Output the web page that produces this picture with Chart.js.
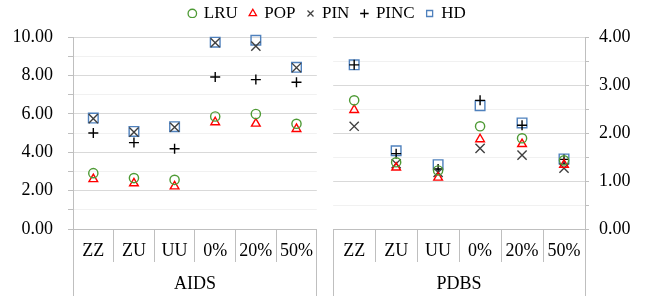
<!DOCTYPE html>
<html>
<head>
<meta charset="utf-8">
<script src="https://cdn.jsdelivr.net/npm/chart.js@4/dist/chart.umd.min.js"></script>
<style>
html,body{margin:0;padding:0;background:#fff;}
#wrap{position:relative;width:655px;height:296px;overflow:hidden;background:#fff;}
#wrap .box{position:absolute;}
canvas{display:block;}
</style>
</head>
<body>
<div id="wrap">
  <div class="box" style="left:0;top:0;"><canvas id="cL" width="325" height="296"></canvas></div>
  <div class="box" style="left:325px;top:0;"><canvas id="cR" width="330" height="296"></canvas></div>
  <div class="box" style="left:0;top:-7px;"><canvas id="cLeg" width="655" height="50"></canvas></div>
</div>
<script>
// ---- data ----
const categories = ['ZZ', 'ZU', 'UU', '0%', '20%', '50%'];
const groupLeft = ['AIDS'];
const groupRight = ['PDBS'];
const seriesNames = ['LRU', 'POP', 'PIN', 'PINC', 'HD'];

const aidsLRU  = [2.91, 2.65, 2.56, 5.86, 5.99, 5.48];
const aidsPOP  = [2.60, 2.38, 2.22, 5.56, 5.49, 5.21];
const aidsPIN  = [5.75, 5.05, 5.30, 9.70, 9.52, 8.40];
const aidsPINC = [5.00, 4.50, 4.18, 7.92, 7.78, 7.64];
const aidsHD   = [5.78, 5.08, 5.33, 9.73, 9.83, 8.42];

const pdbsLRU  = [2.68, 1.39, 1.22, 2.14, 1.89, 1.43];
const pdbsPOP  = [2.48, 1.28, 1.07, 1.87, 1.77, 1.34];
const pdbsPIN  = [2.14, 1.36, 1.18, 1.68, 1.54, 1.27];
const pdbsPINC = [3.42, 1.57, 1.25, 2.68, 2.16, 1.45];
const pdbsHD   = [3.42, 1.63, 1.34, 2.57, 2.21, 1.46];

const leftTickValues  = [0, 2, 4, 6, 8, 10];
const rightTickValues = [0, 1, 2, 3, 4];

// ---- styles ----
const seriesStyles = [
  { pointStyle: 'circle',   color: '#4e9a35', r: 4.6 },
  { pointStyle: 'triangle', color: '#ff0000', r: 5.0 },
  { pointStyle: 'crossRot', color: '#404040', r: 6.5 },
  { pointStyle: 'cross',    color: '#000000', r: 5.0 },
  { pointStyle: 'rect',     color: '#4f81bd', r: 6.8 }
];

Chart.defaults.font.family = "'Liberation Serif', 'Times New Roman', serif";
Chart.defaults.color = '#000';

function makePanel(id, seriesVals, group, side, yMax, yStep, labelValues) {
  const isLeft = side === 'left';
  const datasets = seriesNames.map((name, i) => {
    const st = seriesStyles[i];
    return {
      label: name,
      data: seriesVals[i],
      xAxisID: 'x',
      yAxisID: 'y',
      showLine: false,
      pointStyle: st.pointStyle,
      pointRadius: st.r,
      pointHoverRadius: st.r,
      pointBorderColor: st.color,
      pointBackgroundColor: 'rgba(0,0,0,0)',
      pointBorderWidth: 1.4,
      borderColor: st.color,
      backgroundColor: 'rgba(0,0,0,0)',
      clip: false
    };
  });
  return new Chart(document.getElementById(id), {
    type: 'line',
    data: { labels: categories, datasets: datasets },
    options: {
      responsive: false,
      animation: false,
      events: [],
      layout: { padding: { top: 37, bottom: 0, left: isLeft ? 0 : 7, right: isLeft ? 8 : 0 } },
      plugins: { legend: { display: false }, tooltip: { enabled: false } },
      scales: {
        x: {
          type: 'category', axis: 'x', position: 'bottom', weight: 0, offset: true,
          grid: { display: true, offset: true, drawOnChartArea: false, drawTicks: true, tickLength: 33, color: '#bfbfbf', lineWidth: 1 },
          border: { display: true, color: '#bfbfbf' },
          ticks: { padding: -22, color: '#000', font: { size: 18 }, maxRotation: 0, minRotation: 0, autoSkip: false },
          afterFit: s => { s.height = 33; }
        },
        x2: {
          type: 'category', axis: 'x', labels: group, position: 'bottom', weight: 1, offset: true,
          grid: { display: true, offset: true, drawOnChartArea: false, drawTicks: true, tickLength: 34, color: '#bfbfbf', lineWidth: 1 },
          border: { display: false },
          ticks: { padding: -23, color: '#000', font: { size: 18 }, maxRotation: 0, minRotation: 0, autoSkip: false },
          afterFit: s => { s.height = 34; }
        },
        y: {
          type: 'linear', position: side, min: 0, max: yMax,
          ticks: {
            stepSize: yStep, autoSkip: false, color: '#000', font: { size: 18 },
            padding: isLeft ? 15 : 10,
            callback: v => labelValues.includes(v) ? v.toFixed(2) : ''
          },
          grid: {
            drawTicks: true, tickLength: isLeft ? 5 : 4, tickColor: '#bfbfbf', lineWidth: 1,
            color: c => (c.tick && labelValues.includes(c.tick.value)) ? '#d9d9d9' : '#f1f1f1'
          },
          border: { display: true, color: '#bfbfbf' },
          afterFit: s => { s.width = isLeft ? 73 : 70; }
        }
      }
    }
  });
}

makePanel('cL', [aidsLRU, aidsPOP, aidsPIN, aidsPINC, aidsHD], groupLeft, 'left', 10, 1, leftTickValues);
makePanel('cR', [pdbsLRU, pdbsPOP, pdbsPIN, pdbsPINC, pdbsHD], groupRight, 'right', 4, 0.5, rightTickValues);

// ---- shared legend ----
new Chart(document.getElementById('cLeg'), {
  type: 'line',
  data: { labels: [], datasets: seriesNames.map(n => ({ label: n, data: [] })) },
  options: {
    responsive: false,
    animation: false,
    events: [],
    scales: { x: { display: false }, y: { display: false } },
    plugins: {
      tooltip: { enabled: false },
      legend: {
        display: true, position: 'top', align: 'center',
        labels: {
          usePointStyle: true, boxWidth: 6, boxHeight: 6, padding: 12,
          color: '#000', font: { size: 17 },
          generateLabels: () => seriesNames.map((n, i) => ({
            text: n,
            pointStyle: seriesStyles[i].pointStyle,
            strokeStyle: seriesStyles[i].color,
            fillStyle: 'rgba(0,0,0,0)',
            lineWidth: 1.3,
            hidden: false,
            datasetIndex: i,
            fontColor: '#000'
          }))
        }
      }
    }
  }
});
</script>
</body>
</html>
